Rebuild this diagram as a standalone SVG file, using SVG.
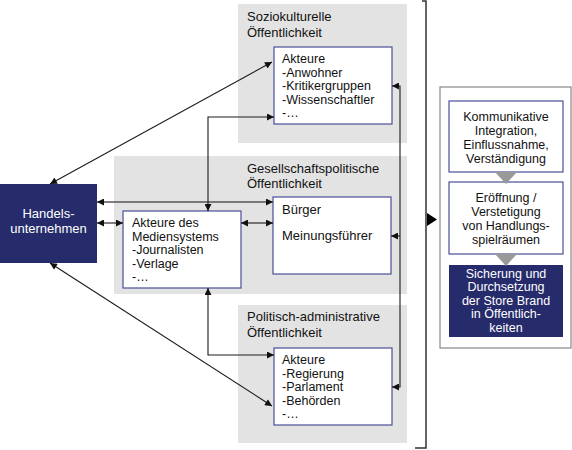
<svg xmlns="http://www.w3.org/2000/svg" width="572" height="450" viewBox="0 0 572 450">
<style>
text{font-family:"Liberation Sans",Arial,sans-serif;font-size:12.5px;fill:#111}
.t{font-size:13px}
.panel{fill:#e3e3e3}
.box{fill:#fff;stroke:#4a4f96;stroke-width:1.2}
.navy{fill:#262b6b}
.w{fill:#fff}
.c{fill:none;stroke:#1a1a1a;stroke-width:1.1;marker-start:url(#a);marker-end:url(#a)}
.ce{fill:none;stroke:#1a1a1a;stroke-width:1.1;marker-end:url(#a)}
.mid{text-anchor:middle}
</style>
<defs>
<marker id="a" viewBox="0 0 10 10" refX="10" refY="5" markerWidth="8" markerHeight="7" orient="auto-start-reverse" markerUnits="userSpaceOnUse"><path d="M0,0 L10,5 L0,10 z" fill="#111"/></marker>
</defs>
<rect width="572" height="450" fill="#fff"/>

<g id="panel-sozio">
<rect class="panel" x="238" y="4" width="169" height="139"/>
<text class="t" x="247" y="21">Soziokulturelle</text>
<text class="t" x="247" y="37">Öffentlichkeit</text>
</g>
<g id="panel-gesell">
<rect class="panel" x="114" y="156" width="293" height="138"/>
<text class="t" x="247" y="173">Gesellschaftspolitische</text>
<text class="t" x="247" y="188">Öffentlichkeit</text>
</g>
<g id="panel-polit">
<rect class="panel" x="238" y="305" width="169" height="138"/>
<text class="t" x="247" y="321">Politisch-administrative</text>
<text class="t" x="247" y="337">Öffentlichkeit</text>
</g>

<g id="handel">
<rect class="navy" x="0" y="184" width="97" height="79"/>
<text class="w mid t" x="48.5" y="218">Handels-</text>
<text class="w mid t" x="48.5" y="233">unternehmen</text>
</g>

<g id="akteure-sozio">
<rect class="box" x="274" y="47" width="118" height="77"/>
<text x="282" y="63">Akteure</text>
<text x="282" y="76.5">-Anwohner</text>
<text x="282" y="90">-Kritikergruppen</text>
<text x="282" y="103.5">-Wissenschaftler</text>
<text x="282" y="117">-…</text>
</g>

<g id="buerger">
<rect class="box" x="273" y="197" width="118" height="77"/>
<text class="t" x="282" y="214">Bürger</text>
<text class="t" x="282" y="240">Meinungsführer</text>
</g>

<g id="medien">
<rect class="box" x="123" y="211" width="118" height="77"/>
<text x="132" y="227">Akteure des</text>
<text x="132" y="240.5">Mediensystems</text>
<text x="132" y="254">-Journalisten</text>
<text x="132" y="267.5">-Verlage</text>
<text x="132" y="281">-…</text>
</g>

<g id="akteure-polit">
<rect class="box" x="274" y="348" width="118" height="77"/>
<text x="282" y="364">Akteure</text>
<text x="282" y="377.5">-Regierung</text>
<text x="282" y="391">-Parlament</text>
<text x="282" y="404.5">-Behörden</text>
<text x="282" y="418">-…</text>
</g>

<g id="connectors">
<path class="c" d="M50,184 L272,62"/>
<path class="c" d="M97,202 L273,202" style="stroke:#555;stroke-width:1.6"/>
<path class="c" d="M97,223 L123,223"/>
<path class="c" d="M241,223 L273,223"/>
<path class="c" d="M208,211 L208,117 L274,117"/>
<path class="c" d="M208,288 L208,355 L274,355"/>
<path class="c" d="M50,263 L272,406"/>
<path class="c" d="M392,86 L400,86 L400,387 L392,387"/>
<path class="ce" d="M400,236 L391,236"/>
<path d="M422,1 L426,1 L426,448 L415,448" fill="none" stroke="#333" stroke-width="1.5"/>
<polygon points="427,213 437,219.5 427,226" fill="#000"/>
</g>

<g id="ergebnis">
<rect x="440" y="87" width="131" height="261" fill="#fff" stroke="#888" stroke-width="1.2"/>
</g>
<g id="kommunikative">
<rect class="box" x="449" y="101" width="114" height="71"/>
<text class="mid" x="506" y="121">Kommunikative</text>
<text class="mid" x="506" y="135">Integration,</text>
<text class="mid" x="506" y="149">Einflussnahme,</text>
<text class="mid" x="506" y="163">Verständigung</text>
</g>
<g id="eroeffnung">
<rect class="box" x="449" y="182" width="114" height="72"/>
<text class="mid" x="506" y="202">Eröffnung /</text>
<text class="mid" x="506" y="216">Verstetigung</text>
<text class="mid" x="506" y="230">von Handlungs-</text>
<text class="mid" x="506" y="244">spielräumen</text>
</g>
<g id="sicherung">
<rect class="navy" x="449" y="265" width="114" height="72"/>
<text class="w mid" x="506" y="277.5">Sicherung und</text>
<text class="w mid" x="506" y="291">Durchsetzung</text>
<text class="w mid" x="506" y="304.5">der Store Brand</text>
<text class="w mid" x="506" y="318">in Öffentlich-</text>
<text class="w mid" x="506" y="331.5">keiten</text>
</g>
<g id="steps">
<polygon points="495,172 517,172 506,184" fill="#999"/>
<polygon points="495,254 517,254 506,266" fill="#999"/>
</g>
</svg>
